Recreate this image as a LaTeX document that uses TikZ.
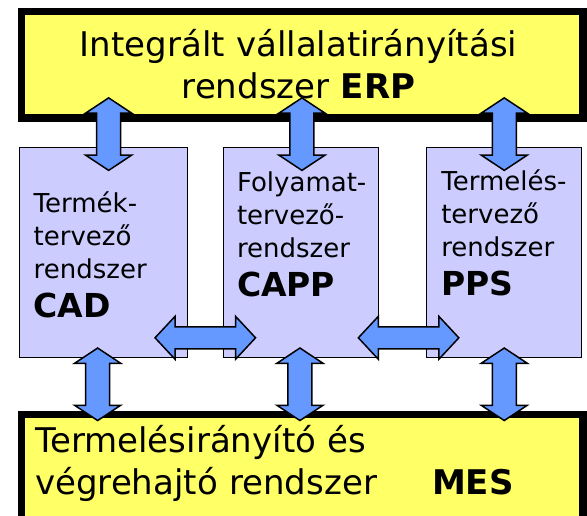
\documentclass[tikz,border=0pt]{standalone}
\usepackage{fontspec}
\setmainfont{DejaVu Sans}
\usepackage{xcolor}
\usepackage{tikz}
\usetikzlibrary{shapes.arrows, positioning, calc}

\definecolor{erpyellow}{HTML}{FFFF66}
\definecolor{syslilac}{HTML}{CCCCFF}
\definecolor{linkblue}{HTML}{6699FF}

\begin{document}
\begin{tikzpicture}[x=1pt, y=-1pt,
    bigbox/.style={draw, line width=7.5pt, fill=erpyellow, anchor=north west, minimum width=561.5pt},
    sysbox/.style={draw, line width=1.3pt, fill=syslilac, minimum width=155pt, minimum height=210pt},
    boxtext/.style={anchor=base west, inner sep=0pt, text width=150pt, align=left, font=\fontsize{26}{33}\selectfont},
    bigtext/.style={inner sep=0pt, text width=540pt, font=\fontsize{34}{42}\selectfont},
    vlink/.style={double arrow, draw, line width=1.5pt, fill=linkblue, rotate=90, inner xsep=0pt, inner ysep=11.25pt,
        double arrow head extend=11pt, double arrow tip angle=113, minimum height=72.5pt},
    hlink/.style={double arrow, draw, line width=1.5pt, fill=linkblue, inner xsep=0pt, inner ysep=10.25pt,
        double arrow head extend=10.5pt, double arrow tip angle=94, minimum height=100.5pt}]
    \clip (0,0) rectangle (587,515);

    \node[bigbox, minimum height=106.5pt] (erp) at (17.75,7.75) {};
    \node[bigbox, minimum height=130pt] (mes) at (17.75,410.75) {};

    \node[sysbox, anchor=north west, minimum width=168pt] (cad) at (18.5,146.5) {};
    \node[sysbox, right=35pt of cad] (capp) {};
    \node[sysbox, right=47pt of capp] (pps) {};

    \node[bigtext, anchor=base, align=center] (erptext) at (298.5,56) {Integrált vállalatirányítási\\rendszer \textbf{ERP}};
    \node[bigtext, anchor=base west, align=left] (mestext) at (35,452) {Termelésirányító és\\végrehajtó rendszer\hspace{55pt}\textbf{MES}};

    \node[boxtext] (cadtext) at ([shift={(15,66)}]cad.north west) {Termék-\\tervező\\rendszer\\[6pt]{\fontsize{33}{39}\selectfont\bfseries CAD}};
    \node[boxtext] (capptext) at ([shift={(14,45)}]capp.north west) {Folyamat-\\tervező-\\rendszer\\[6pt]{\fontsize{33}{39}\selectfont\bfseries CAPP}};
    \node[boxtext] (ppstext) at ([shift={(15,44)}]pps.north west) {Termelés-\\tervező\\rendszer\\[6pt]{\fontsize{33}{39}\selectfont\bfseries PPS}};

    % links to ERP
    \node[vlink] (up1) at ($(erp.south -| cad.north)!0.5!(cad.north) + (5.5,0)$) {};
    \node[vlink] (up2) at ($(erp.south -| capp.north)!0.5!(capp.north) + (1,0)$) {};
    \node[vlink] (up3) at ($(erp.south -| pps.north)!0.5!(pps.north)$) {};
    % links to MES
    \node[vlink] (dn1) at ($(cad.south)!0.5!(mes.north -| cad.south) + (-5.5,0)$) {};
    \node[vlink] (dn2) at ($(capp.south)!0.5!(mes.north -| capp.south) + (-1,0)$) {};
    \node[vlink] (dn3) at ($(pps.south)!0.5!(mes.north -| pps.south)$) {};
    % links between systems
    \node[hlink] (side1) at ($(cad.south east)!0.5!(capp.south west) + (0,-20)$) {};
    \node[hlink] (side2) at ($(capp.south east)!0.5!(pps.south west) + (6,-20)$) {};
\end{tikzpicture}
\end{document}
